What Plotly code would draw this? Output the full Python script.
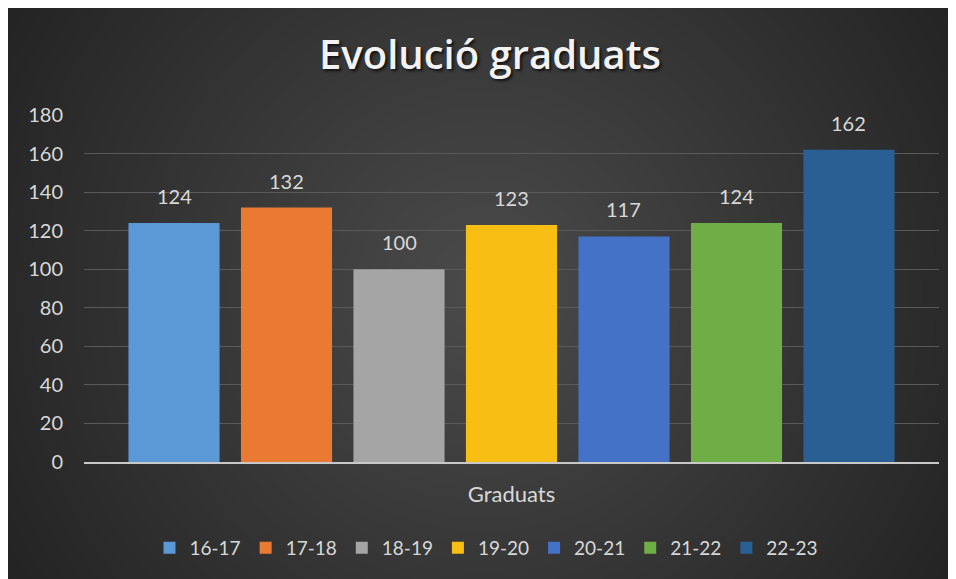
import base64
import struct
import zlib

import numpy as np
import plotly.graph_objects as go

CATEGORY = ['Graduats']
COURSES = ['16-17', '17-18', '18-19', '19-20', '20-21', '21-22', '22-23']
GRADUATES = [124, 132, 100, 123, 117, 124, 162]
Y_TICKS = [0, 20, 40, 60, 80, 100, 120, 140, 160, 180]

_COLORS = ['#5a98d6', '#ea7a33', '#a5a5a5', '#f7be14', '#4472c6', '#6fad47', '#2a5f93']

_W, _H = 956, 579
_MARGIN = dict(l=76, r=25, t=107, b=125)
_BARGAP = 0.079
_FONT = 'Lato, Open Sans, sans-serif'


def _png_uri(arr):
    h, w, _ = arr.shape
    raw = b''.join(b'\x00' + row.tobytes() for row in arr)

    def chunk(tag, data):
        return (struct.pack('>I', len(data)) + tag + data
                + struct.pack('>I', zlib.crc32(tag + data) & 0xffffffff))

    png = (b'\x89PNG\r\n\x1a\n'
           + chunk(b'IHDR', struct.pack('>IIBBBBB', w, h, 8, 2, 0, 0, 0))
           + chunk(b'IDAT', zlib.compress(raw, 9))
           + chunk(b'IEND', b''))
    return 'data:image/png;base64,' + base64.b64encode(png).decode()


def _background():
    # radial dark-grey fill, lighter in the middle
    yy, xx = np.mgrid[0:_H, 0:_W].astype(float)
    cx, cy = 475.0, 282.0
    d = np.sqrt((xx - cx) ** 2 + (yy - cy) ** 2) / np.hypot(_W - cx, _H - cy)
    d = np.clip(d, 0, 1)
    g = 75 - (75 - 35) * d
    arr = np.repeat(g[:, :, None], 3, axis=2)
    return arr.astype(np.uint8)


pw = _W - _MARGIN['l'] - _MARGIN['r']
ph = _H - _MARGIN['t'] - _MARGIN['b']

fig = go.Figure()
for name, val, col in zip(COURSES, GRADUATES, _COLORS):
    fig.add_trace(go.Bar(x=CATEGORY, y=[val], name=name, marker=dict(color=col, line_width=0)))

# value labels above each bar
group = 1 - _BARGAP
slot = group / len(COURSES)
for i, val in enumerate(GRADUATES):
    fig.add_annotation(
        x=-group / 2 + (i + 0.5) * slot, y=val, xref='x', yref='y',
        text=str(val), showarrow=False, yanchor='bottom', yshift=13,
        font=dict(family=_FONT, size=20, color='#d9d9d9'),
    )

fig.add_layout_image(
    source=_png_uri(_background()), xref='paper', yref='paper',
    x=-_MARGIN['l'] / pw, y=1 + _MARGIN['t'] / ph,
    sizex=_W / pw, sizey=_H / ph, sizing='stretch',
    xanchor='left', yanchor='top', layer='below',
)

fig.update_layout(
    width=_W, height=_H,
    margin=_MARGIN,
    paper_bgcolor='#2a2a2a',
    plot_bgcolor='rgba(0,0,0,0)',
    barmode='group', bargap=_BARGAP, bargroupgap=0.19,
    title=dict(text='Evolució graduats', x=482 / _W, xanchor='center',
               y=1 - 47 / _H, yanchor='middle',
               font=dict(family='Open Sans, Lato, sans-serif', size=40, weight=600,
                         color='#f2f2f2', shadow='2px 2px 3px rgba(0,0,0,0.7)')),
    xaxis=dict(showgrid=False, showline=True, linecolor='#c8c8c8', linewidth=2,
               ticks='', ticklabelstandoff=12,
               tickfont=dict(family=_FONT, size=22, color='#d9d9d9')),
    yaxis=dict(range=[0, 180], tickvals=Y_TICKS, showgrid=True, gridcolor='#5a5a5a',
               gridwidth=1, zeroline=False, showline=False, ticks='',
               ticklabelstandoff=20,
               tickfont=dict(family=_FONT, size=20, color='#d9d9d9')),
    legend=dict(orientation='h', x=(478 - _MARGIN['l']) / pw, xanchor='center',
                y=-(540 - (_H - _MARGIN['b'])) / ph, yanchor='middle',
                font=dict(family=_FONT, size=19, color='#d9d9d9'),
                itemwidth=30, bgcolor='rgba(0,0,0,0)'),
    showlegend=True,
)

fig.write_html('out.html')
